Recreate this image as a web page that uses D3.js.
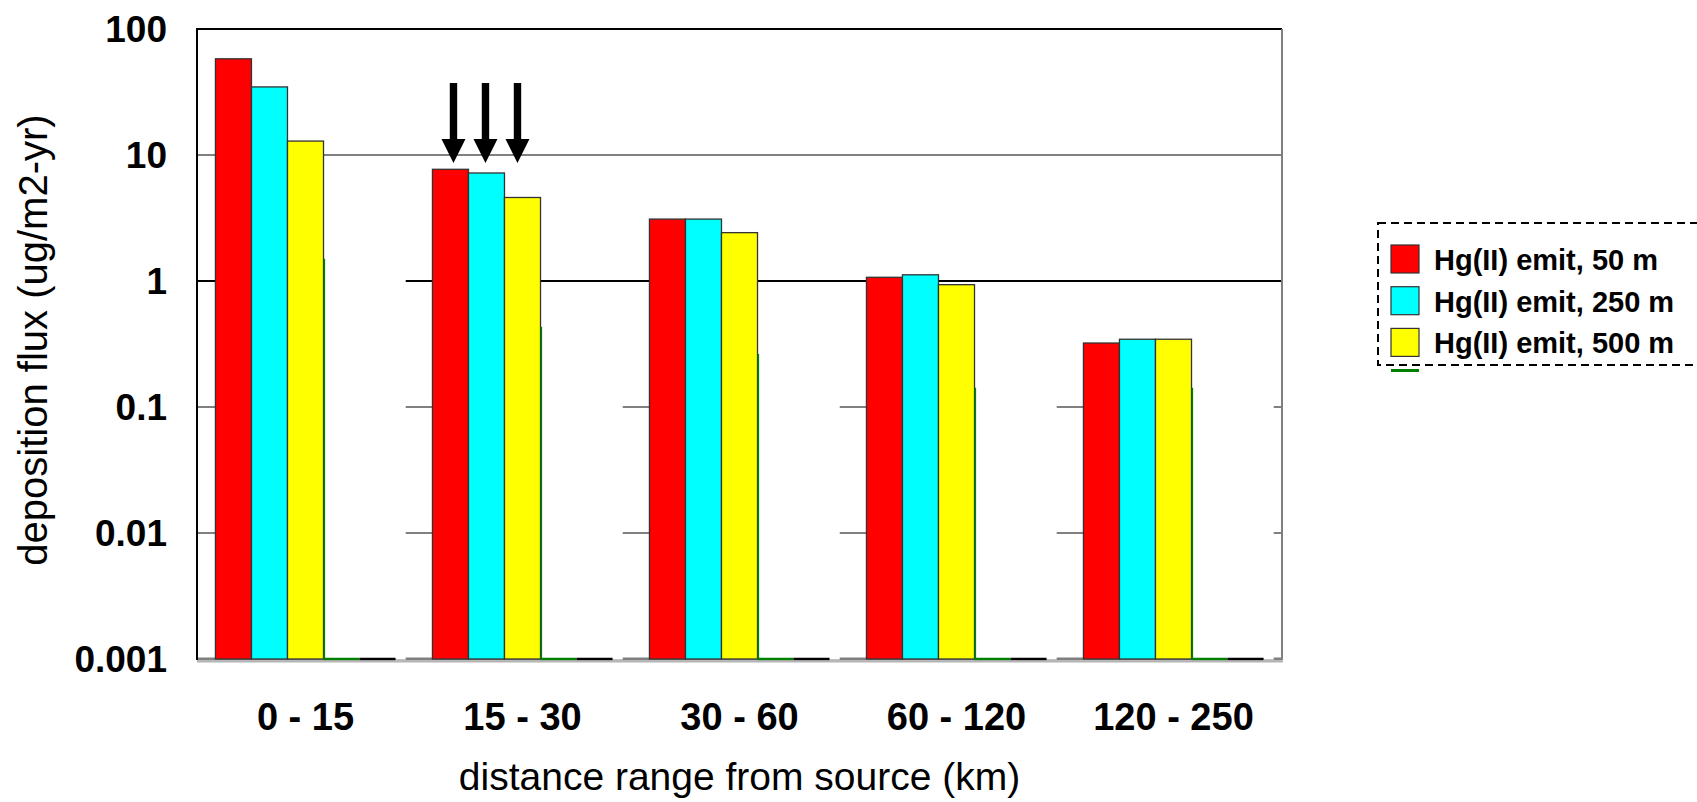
<!DOCTYPE html>
<html>
<head>
<meta charset="utf-8">
<script src="https://cdn.jsdelivr.net/npm/d3@7"></script>
<style>
  html, body { margin: 0; padding: 0; background: #fff; }
  svg { display: block; }
  text { font-family: "Liberation Sans", Arial, sans-serif; fill: #000; }
</style>
</head>
<body>
<svg id="chart" width="1697" height="802"></svg>
<script>
// Distance bands downwind of the source
const categories = ["0 - 15", "15 - 30", "30 - 60", "60 - 120", "120 - 250"];

// Deposition flux (ug/m2-yr) for each emission height
const emit50  = [58.0, 7.7, 3.10, 1.07, 0.322];
const emit250 = [34.7, 7.2, 3.10, 1.12, 0.345];
const emit500 = [12.9, 4.6, 2.42, 0.935, 0.345];

// Two further series sit at the axis floor (no visible height)
const floorGreen = [0.001, 0.001, 0.001, 0.001, 0.001];
const floorBlack = [0.001, 0.001, 0.001, 0.001, 0.001];

// Height of the white backing panel drawn next to each cluster
const panelTop = [1.5, 0.434, 0.263, 0.142, 0.142];

const seriesNames = ["Hg(II) emit, 50 m", "Hg(II) emit, 250 m", "Hg(II) emit, 500 m", "green", "black"];
const seriesColors = ["#ff0000", "#00ffff", "#ffff00", "#008000", "#000000"];
const yTicks = [100, 10, 1, 0.1, 0.01, 0.001];
const yTickLabels = ["100", "10", "1", "0.1", "0.01", "0.001"];

const seriesValues = [emit50, emit250, emit500, floorGreen, floorBlack];

const svg = d3.select("#chart");
const plot = { left: 197, right: 1282, top: 29, bottom: 659 };

const x0 = d3.scaleBand().domain(categories).range([plot.left, plot.right]).paddingInner(0).paddingOuter(0);
const x1 = d3.scaleBand().domain(d3.range(5))
  .range([x0.bandwidth() * 0.085, x0.bandwidth() * 0.915]).padding(0);
const bw = x1.bandwidth();
const y = d3.scaleLog().domain([0.001, 100]).range([plot.bottom, plot.top]);

// Gridlines
const gridStyle = { 10: ["#808080", 2], 1: ["#000", 2], 0.1: ["#808080", 2], 0.01: ["#808080", 2], 0.001: ["#808080", 3] };
svg.append("g").selectAll("line").data([10, 1, 0.1, 0.01, 0.001]).join("line")
  .attr("x1", plot.left).attr("x2", plot.right)
  .attr("y1", d => y(d)).attr("y2", d => y(d))
  .attr("stroke", d => gridStyle[d][0]).attr("stroke-width", d => gridStyle[d][1]);

// Coloured bars (first three series)
const bars = svg.append("g");
categories.forEach((c, ci) => {
  for (let s = 0; s < 3; s++) {
    const v = seriesValues[s][ci];
    bars.append("rect")
      .attr("x", x0(c) + x1(s))
      .attr("y", y(v))
      .attr("width", bw)
      .attr("height", y(0.001) - y(v))
      .attr("fill", seriesColors[s])
      .attr("stroke", "#333")
      .attr("stroke-width", 1.3);
  }
});

// White backing panels beside each cluster, with a green left edge
const panels = svg.append("g");
categories.forEach((c, ci) => {
  const px = x0(c) + x1(2) + bw;
  panels.append("rect")
    .attr("x", px + 0.8).attr("y", y(panelTop[ci]))
    .attr("width", bw * 2.26).attr("height", y(0.001) - y(panelTop[ci]) + 0.5)
    .attr("fill", "#fff");
  panels.append("line")
    .attr("x1", px + 0.8).attr("x2", px + 0.8)
    .attr("y1", y(panelTop[ci])).attr("y2", y(0.001))
    .attr("stroke", "#008000").attr("stroke-width", 1.6);
});

// Floor-level series drawn as flat bars on the axis
categories.forEach((c, ci) => {
  [3, 4].forEach(s => {
    const v = seriesValues[s][ci];
    svg.append("line")
      .attr("x1", x0(c) + x1(s)).attr("x2", x0(c) + x1(s) + bw)
      .attr("y1", y(v)).attr("y2", y(v))
      .attr("stroke", seriesColors[s]).attr("stroke-width", 2.5);
  });
});

// Plot frame
svg.append("line").attr("x1", plot.left).attr("x2", plot.right).attr("y1", plot.top).attr("y2", plot.top)
  .attr("stroke", "#000").attr("stroke-width", 2);
svg.append("line").attr("x1", plot.left).attr("x2", plot.left).attr("y1", plot.top - 1).attr("y2", plot.bottom + 1)
  .attr("stroke", "#000").attr("stroke-width", 2);
svg.append("line").attr("x1", plot.right).attr("x2", plot.right).attr("y1", plot.top).attr("y2", plot.bottom + 1)
  .attr("stroke", "#808080").attr("stroke-width", 2);
svg.append("line").attr("x1", plot.left).attr("x2", plot.right + 1).attr("y1", plot.bottom + 2.5).attr("y2", plot.bottom + 2.5)
  .attr("stroke", "#b4b4b4").attr("stroke-width", 2);

// Y axis tick labels
svg.append("g").selectAll("text").data(yTicks).join("text")
  .attr("x", plot.left - 30)
  .attr("y", d => y(d) + 13)
  .attr("text-anchor", "end")
  .style("font-size", "37px").style("font-weight", "bold")
  .text((d, i) => yTickLabels[i]);

// X axis category labels
svg.append("g").selectAll("text").data(categories).join("text")
  .attr("x", d => x0(d) + x0.bandwidth() / 2)
  .attr("y", 730)
  .attr("text-anchor", "middle")
  .style("font-size", "38px").style("font-weight", "bold")
  .text(d => d);

// Axis titles
svg.append("text")
  .attr("x", (plot.left + plot.right) / 2).attr("y", 790)
  .attr("text-anchor", "middle")
  .style("font-size", "39px")
  .text("distance range from source (km)");
svg.append("text")
  .attr("transform", `translate(47, ${(plot.top + plot.bottom) / 2 - 4}) rotate(-90)`)
  .attr("text-anchor", "middle")
  .style("font-size", "40px")
  .text("deposition flux (ug/m2-yr)");

// Arrows pointing at the 15 - 30 km cluster
const arrowCat = "15 - 30";
const arrowMid = x0(arrowCat) + x1(1) + bw / 2 - 1;
const arrowTip = y(10) + 8;
const arrows = svg.append("g");
[-1, 0, 1].forEach(k => {
  const cx = arrowMid + k * 32;
  arrows.append("path")
    .attr("d", `M${cx - 3.7},${arrowTip - 80} L${cx + 3.7},${arrowTip - 80} L${cx + 3.7},${arrowTip - 24}
      L${cx + 12},${arrowTip - 24} L${cx},${arrowTip} L${cx - 12},${arrowTip - 24} L${cx - 3.7},${arrowTip - 24} Z`)
    .attr("fill", "#000");
});

// Legend
const legend = svg.append("g").attr("transform", "translate(1378, 223)");
legend.append("rect")
  .attr("x", 0).attr("y", 0).attr("width", 340).attr("height", 142)
  .attr("fill", "#fff").attr("stroke", "#000").attr("stroke-width", 2)
  .attr("stroke-dasharray", "8,5");
seriesNames.slice(0, 3).forEach((name, i) => {
  const g = legend.append("g").attr("transform", `translate(13, ${22 + i * 41.7})`);
  g.append("rect").attr("x", 0).attr("y", 0).attr("width", 28).attr("height", 28)
    .attr("fill", seriesColors[i]).attr("stroke", "#333").attr("stroke-width", 1.2);
  g.append("text").attr("x", 43).attr("y", 25)
    .style("font-size", "29px").style("font-weight", "bold")
    .text(name);
});
// top edge of the next legend swatch, just below the box
legend.append("rect").attr("x", 13).attr("y", 146).attr("width", 28).attr("height", 3)
  .attr("fill", seriesColors[3]);
</script>
</body>
</html>
